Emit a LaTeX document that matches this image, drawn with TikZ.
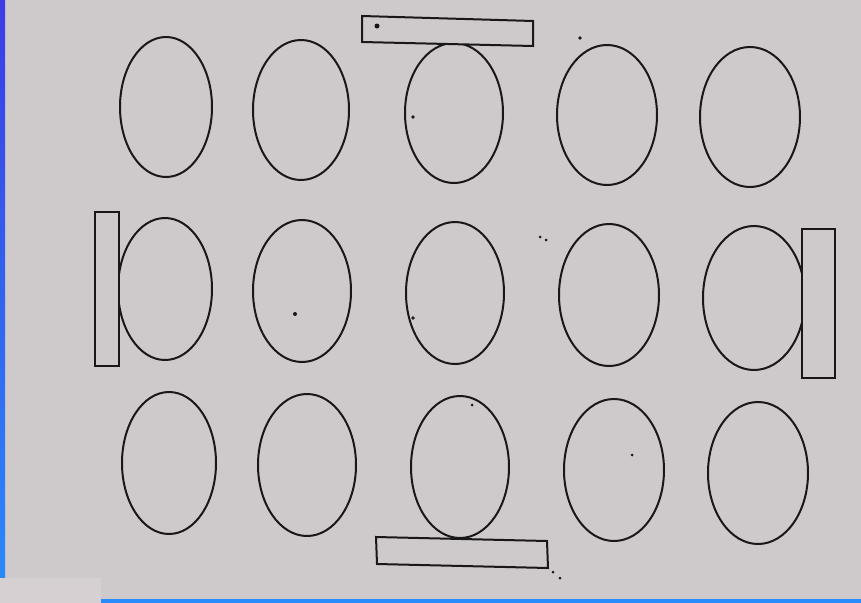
\documentclass[tikz,border=0pt]{standalone}
\usepackage{tikz}
\definecolor{paper}{RGB}{206,202,203}
\definecolor{patch}{RGB}{214,208,210}
\definecolor{edgeblue}{RGB}{40,140,250}
\definecolor{edgetop}{RGB}{60,60,230}
\definecolor{ink}{RGB}{25,23,25}
\tikzset{
  oval/.style={draw=ink, line width=1.5pt},
  bar/.style={draw=ink, line width=1.5pt, line join=miter},
  speck/.style={fill=ink}
}
\begin{document}
\begin{tikzpicture}[x=0.75pt,y=-0.75pt]
\useasboundingbox (0,0) rectangle (861,603);
\fill[paper] (0,0) rectangle (861,603);
\shade[top color=edgetop, bottom color=edgeblue] (0,0) rectangle (5,603);
\fill[edgeblue] (0,599) rectangle (861,603);
\fill[patch] (0,578) rectangle (101,603);
% row 1
\draw[oval] (166,107) ellipse [x radius=46, y radius=70];
\draw[oval] (301,110) ellipse [x radius=48, y radius=70];
\draw[oval] (454,113) ellipse [x radius=49, y radius=70];
\draw[oval] (607,115) ellipse [x radius=50, y radius=70];
\draw[oval] (750,117) ellipse [x radius=50, y radius=70];
% row 2
\draw[oval] (165,289) ellipse [x radius=47, y radius=71];
\draw[oval] (302,291) ellipse [x radius=49, y radius=71];
\draw[oval] (455,293) ellipse [x radius=49, y radius=71];
\draw[oval] (609,295) ellipse [x radius=50, y radius=71];
\draw[oval] (754,298) ellipse [x radius=51, y radius=72];
% row 3
\draw[oval] (169,463) ellipse [x radius=47, y radius=71];
\draw[oval] (307,465) ellipse [x radius=49, y radius=71];
\draw[oval] (460,467) ellipse [x radius=49, y radius=71];
\draw[oval] (614,470) ellipse [x radius=50, y radius=71];
\draw[oval] (758,473) ellipse [x radius=50, y radius=71];
% bars
\draw[bar,fill=paper] (362,16) -- (533,21) -- (533,46) -- (362,42) -- cycle;
\draw[bar,fill=paper] (95,212) rectangle (119,366);
\draw[bar,fill=paper] (802,229) rectangle (835,378);
\draw[bar,fill=paper] (376,537) -- (547,541) -- (548,568) -- (377,564) -- cycle;
% specks
\fill[speck] (377,26) circle [radius=2.5];
\fill[speck] (413,117) circle [radius=1.8];
\fill[speck] (295,314) circle [radius=2];
\fill[speck] (413,318) circle [radius=1.8];
\fill[speck] (580,38) circle [radius=1.8];
\fill[speck] (540,237) circle [radius=1.5];
\fill[speck] (546,240) circle [radius=1.5];
\fill[speck] (553,572) circle [radius=1.5];
\fill[speck] (560,578) circle [radius=1.5];
\fill[speck] (632,455) circle [radius=1.5];
\fill[speck] (472,405) circle [radius=1.5];
\end{tikzpicture}
\end{document}
